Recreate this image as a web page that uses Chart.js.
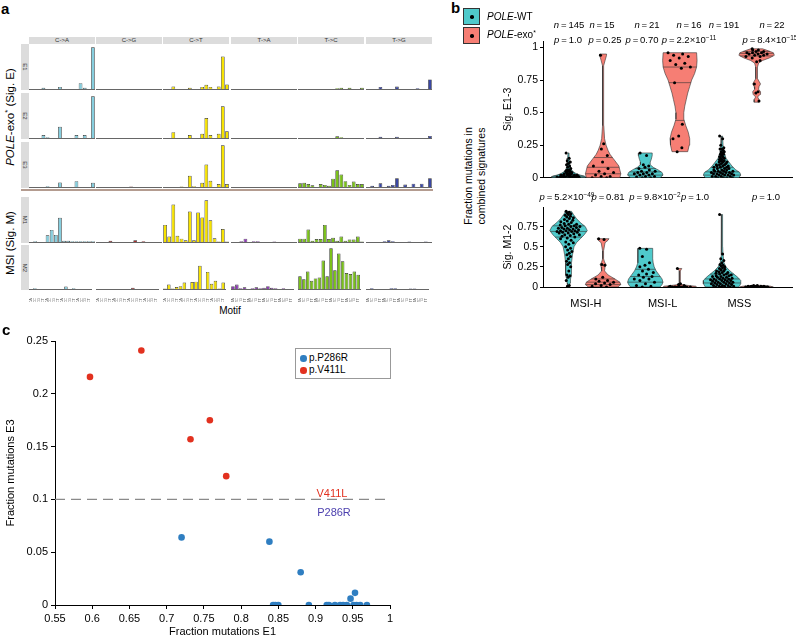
<!DOCTYPE html>
<html>
<head>
<meta charset="utf-8">
<script src="https://cdn.jsdelivr.net/npm/chart.js@4.4.1/dist/chart.umd.min.js"></script>
<style>
body { margin: 0; background: #fff; }
#page { position: relative; width: 796px; height: 639px; overflow: hidden; font-family: 'Liberation Sans', Arial, sans-serif; color: #000; }
canvas { position: absolute; }
.t { position: absolute; white-space: nowrap; line-height: 1; }
.c { transform: translate(-50%, -50%); }
.r { transform: translate(-50%, -50%) rotate(-90deg); }
.strip { position: absolute; background: #dcdcdc; color: #333; font-size: 6px; text-align: center; overflow: hidden; }
sup { font-size: 68%; vertical-align: 0.5em; line-height: 0; }
</style>
</head>
<body>
<div id="page"></div>
<script>
// panel a: mutational signatures (each row relative to its highest bar)
var groups = ['C->A', 'C->G', 'C->T', 'T->A', 'T->C', 'T->G'];
var groupColors = ['#86CEDE', '#B0282A', '#F6E200', '#8C3CB2', '#7AC11A', '#3A47A3'];
var flank5 = ['A','A','A','A','C','C','C','C','G','G','G','G','T','T','T','T'];
var flank3 = ['A','C','G','T','A','C','G','T','A','C','G','T','A','C','G','T'];
var rowNames = ['E1', 'E2', 'E3', 'M1', 'M2'];

var sigE1 = [
  0,0,0,0.03,0,0,0,0.05,0,0,0,0,0.14,0.03,0,1.0,
  0,0,0,0,0,0,0,0,0,0,0,0,0,0,0,0,
  0,0,0.06,0,0,0,0.03,0,0,0.05,0.1,0.05,0,0.06,0.78,0.11,
  0,0,0,0,0,0,0,0,0,0,0,0,0,0,0,0,
  0,0,0,0,0,0,0,0,0,0.02,0.03,0,0.03,0,0,0.03,
  0,0,0,0.05,0,0,0,0.06,0,0,0,0,0.02,0,0,0.23
];
var sigE2 = [
  0,0,0,0.07,0.02,0,0,0.27,0,0,0,0.07,0,0.07,0,1.0,
  0,0,0,0,0,0,0,0,0,0,0,0,0,0,0,0,
  0,0,0.14,0,0,0,0.07,0,0,0.1,0.48,0.07,0,0.1,0.76,0.16,
  0,0,0,0,0,0,0,0,0,0,0,0,0,0,0,0,
  0,0,0,0,0,0,0,0,0,0.04,0.02,0,0,0,0,0,
  0,0,0,0.03,0,0,0,0.03,0,0,0,0,0,0,0,0.05
];
var sigE3 = [
  0,0,0,0,0.02,0,0,0.11,0,0,0,0.14,0,0,0,0.1,
  0,0,0,0,0,0,0,0,0.01,0,0,0,0,0,0,0,
  0,0,0,0,0.01,0,0.27,0.02,0,0.1,0.54,0.15,0,0.07,1.0,0.07,
  0,0,0,0,0,0,0,0,0,0,0,0,0,0,0,0,
  0.09,0.1,0.07,0.04,0,0.07,0.05,0.03,0.2,0.4,0.3,0.14,0.05,0.13,0.07,0.07,
  0,0.03,0,0.09,0,0.03,0.05,0.21,0,0.06,0,0.08,0,0.08,0,0.21
];
var sigM1 = [
  0,0.02,0,0,0.16,0.29,0.17,0.58,0.03,0.03,0.02,0.02,0.02,0.02,0.02,0.02,
  0,0,0,0.03,0,0,0,0,0,0.04,0,0.02,0,0,0,0,
  0.41,0.13,0.9,0.15,0.08,0.04,0.73,0.04,0.71,0.59,1.0,0.52,0.09,0.01,0.31,0.01,
  0,0,0.02,0.08,0,0.02,0.02,0,0,0,0.01,0,0,0,0,0,
  0.08,0.08,0.3,0.03,0.07,0.07,0.41,0.07,0.1,0.03,0.13,0.03,0.06,0.06,0.13,0.01,
  0,0,0,0,0.02,0.04,0.02,0,0,0,0.01,0,0,0,0.01,0
];
var sigM2 = [
  0,0.02,0,0,0,0,0,0,0,0.06,0,0.02,0,0,0,0,
  0,0,0,0,0,0,0,0,0,0.03,0,0,0,0,0,0,
  0.01,0.11,0.01,0.05,0.07,0.16,0,0.17,0.18,0.57,0,0.42,0.13,0.2,0.01,0.16,
  0.07,0.11,0.02,0.04,0,0.02,0.04,0.02,0.03,0.07,0.03,0.02,0,0.02,0,0,
  0.31,0.24,0.43,0.2,0.26,0.28,0.7,0.31,1.0,0.46,0.87,0.68,0.39,0.37,0.43,0.35,
  0,0.02,0,0,0,0,0.02,0.02,0,0,0,0.01,0.01,0,0,0
];
var sigRows = [sigE1, sigE2, sigE3, sigM1, sigM2];

// panel b: violins, profile levels / relative density / quantile lines / points
var cats = ['MSI-H', 'MSI-L', 'MSS'];

var e13WtH_y = [0, 0.01, 0.02, 0.03, 0.05, 0.07, 0.1, 0.15, 0.19];
var e13WtH_w = [17, 17, 12, 8, 4, 2.5, 1.5, 1, 0.5];
var e13WtH_q = [0.006, 0.013, 0.025];
var e13WtH_p = [0.19,0.15,0.13,0.12,0.11,0.1,0.09,0.08,0.07,0.06,0.06,0.05,0.05,0.05,0.04,0.04,0.04,0.03,0.03,0.03,0.03,0.02,0.02,0.02,0.02,0.02,0.02,0.01,0.01,0.01,0.01,0.01,0.01,0.01,0.005,0.005,0.005,0.005,0,0,0,0,0,0,0,0];
var e13ExoH_y = [0, 0.03, 0.06, 0.09, 0.12, 0.15, 0.18, 0.21, 0.25, 0.3, 0.4, 0.6, 0.8, 0.86, 0.9, 0.94, 0.95];
var e13ExoH_w = [17, 18, 17, 16, 13, 10, 7, 5, 3, 1.5, 0.7, 0.5, 0.5, 0.6, 2, 3.5, 3.5];
var e13ExoH_q = [0.03, 0.08, 0.155];
var e13ExoH_p = [0.94,0.26,0.22,0.17,0.12,0.09,0.07,0.05,0.04,0.03,0.02,0.01,0.01,0,0];
var e13WtL_y = [0, 0.02, 0.04, 0.06, 0.08, 0.1, 0.12, 0.14, 0.17, 0.19];
var e13WtL_w = [15, 18, 17, 13, 8, 5, 5, 6, 7, 7];
var e13WtL_q = [0.02, 0.045, 0.07];
var e13WtL_p = [0.19,0.17,0.1,0.09,0.08,0.07,0.06,0.05,0.05,0.04,0.04,0.03,0.03,0.03,0.02,0.02,0.01,0.01,0.005,0,0];
var e13ExoL_y = [0.2, 0.25, 0.3, 0.35, 0.4, 0.45, 0.5, 0.55, 0.6, 0.65, 0.7, 0.75, 0.8, 0.85, 0.9, 0.96];
var e13ExoL_w = [8, 9.5, 10, 8.5, 6, 4, 4, 5, 6.5, 8, 10, 12, 15, 17, 17.5, 17];
var e13ExoL_q = [0.44, 0.73, 0.85];
var e13ExoL_p = [0.96,0.95,0.94,0.93,0.92,0.9,0.88,0.87,0.85,0.84,0.73,0.41,0.32,0.3,0.23,0.2];
var e13WtS_y = [0, 0.02, 0.04, 0.06, 0.09, 0.12, 0.15, 0.2, 0.25, 0.32];
var e13WtS_w = [17, 19, 18, 14, 10, 7, 4, 2, 1, 0.5];
var e13WtS_q = [0.02, 0.045, 0.08];
var e13WtS_p = [0.32,0.3,0.25,0.23,0.22,0.22,0.21,0.2,0.2,0.19,0.18,0.18,0.17,0.16,0.16,0.15,0.15,0.14,0.14,0.13,0.13,0.12,0.12,0.12,0.11,0.11,0.1,0.1,0.1,0.09,0.09,0.09,0.08,0.08,0.08,0.07,0.07,0.07,0.06,0.06,0.06,0.05,0.05,0.05,0.05,0.04,0.04,0.04,0.04,0.03,0.03,0.03,0.03,0.02,0.02,0.02,0.02,0.01,0.01,0.01,0.01,0,0,0,0];
var e13ExoS_y = [0.58, 0.6, 0.62, 0.64, 0.66, 0.68, 0.7, 0.72, 0.74, 0.76, 0.8, 0.85, 0.88, 0.9, 0.92, 0.94, 0.96, 0.98, 0.99];
var e13ExoS_w = [2.5, 2.5, 1, 3.5, 4, 2, 2.5, 4, 2.5, 1, 0.8, 1, 2, 6, 13, 18, 17, 10, 6];
var e13ExoS_q = [0.935, 0.955, 0.97];
var e13ExoS_p = [0.99,0.98,0.98,0.97,0.97,0.96,0.96,0.96,0.95,0.95,0.95,0.94,0.94,0.93,0.93,0.92,0.9,0.89,0.72,0.66,0.65,0.59];

var m12WtH_y = [0.01, 0.05, 0.1, 0.15, 0.2, 0.3, 0.4, 0.5, 0.55, 0.6, 0.65, 0.7, 0.75, 0.8, 0.85, 0.9, 0.94];
var m12WtH_w = [1, 1.5, 2, 3, 3, 3, 4, 5.5, 8, 12, 16, 19, 17, 12, 8, 5, 3];
var m12WtH_q = [0.62, 0.69, 0.76];
var m12WtH_p = [0.94,0.93,0.92,0.91,0.9,0.89,0.88,0.87,0.86,0.85,0.84,0.83,0.82,0.81,0.8,0.79,0.78,0.78,0.77,0.76,0.76,0.75,0.75,0.74,0.74,0.73,0.73,0.72,0.72,0.71,0.71,0.7,0.7,0.7,0.69,0.69,0.68,0.68,0.67,0.67,0.66,0.65,0.65,0.64,0.63,0.62,0.61,0.6,0.58,0.56,0.55,0.53,0.5,0.48,0.46,0.44,0.42,0.4,0.38,0.35,0.32,0.3,0.28,0.25,0.2,0.15,0.14,0.12,0.08,0.02,0.01];
var m12ExoH_y = [0, 0.03, 0.06, 0.1, 0.15, 0.2, 0.25, 0.28, 0.31, 0.35, 0.45, 0.55, 0.58, 0.6];
var m12ExoH_w = [15, 18, 17, 12, 5, 1.5, 2, 3, 1.5, 0.5, 0.5, 2, 5, 6];
var m12ExoH_q = [0.03, 0.06, 0.1];
var m12ExoH_p = [0.6,0.59,0.28,0.27,0.12,0.1,0.08,0.07,0.06,0.05,0.04,0.03,0.02,0.01,0];
var m12WtL_y = [0, 0.03, 0.06, 0.1, 0.15, 0.2, 0.25, 0.3, 0.35, 0.4, 0.45, 0.48];
var m12WtL_w = [15, 17, 18, 17, 14, 11, 9, 8, 7.5, 7.5, 7.5, 7.5];
var m12WtL_q = [0.06, 0.13, 0.22];
var m12WtL_p = [0.48,0.47,0.38,0.3,0.27,0.25,0.22,0.2,0.18,0.16,0.15,0.13,0.12,0.1,0.1,0.08,0.06,0.04,0.02,0.01,0];
var m12ExoL_y = [0, 0.01, 0.02, 0.03, 0.05, 0.1, 0.15, 0.2, 0.23];
var m12ExoL_w = [17, 16, 8, 2, 0.6, 0.5, 0.5, 0.6, 2];
var m12ExoL_q = [];
var m12ExoL_p = [0.23,0.04,0.03,0.02,0.01,0.01,0.01,0,0,0,0,0,0,0,0,0];
var m12WtS_y = [0, 0.04, 0.08, 0.12, 0.16, 0.2, 0.25, 0.3, 0.4, 0.5, 0.7, 0.9];
var m12WtS_w = [17, 19, 19, 16, 12, 8, 4, 2, 1, 0.6, 0.5, 0.5];
var m12WtS_q = [0.05, 0.1, 0.16];
var m12WtS_p = [0.9,0.41,0.35,0.33,0.3,0.28,0.27,0.26,0.25,0.24,0.23,0.22,0.21,0.2,0.2,0.19,0.18,0.18,0.17,0.16,0.16,0.15,0.15,0.14,0.14,0.13,0.13,0.12,0.12,0.11,0.11,0.1,0.1,0.1,0.09,0.09,0.08,0.08,0.08,0.07,0.07,0.06,0.06,0.06,0.05,0.05,0.04,0.04,0.04,0.03,0.03,0.02,0.02,0.02,0.01,0.01,0.01,0,0,0];
var m12ExoS_y = [0, 0.01, 0.02];
var m12ExoS_w = [17, 14, 4];
var m12ExoS_q = [];
var m12ExoS_p = [0.02,0.02,0.01,0.01,0.01,0.01,0.01,0.01,0,0,0,0,0,0,0,0,0,0,0,0,0,0];

// panel c: per-sample fractions
var p286E1 = [0.720,0.838,0.880,0.843,0.846,0.850,0.891,0.915,0.918,0.926,0.933,0.937,0.942,0.947,0.953,0.951,0.955,0.960,0.969];
var p286E3 = [0.064,0.060,0.031,0,0,0,0,0,0,0,0,0,0,0.006,0.0115,0,0,0,0];
var v411E1 = [0.597,0.666,0.732,0.758,0.780];
var v411E3 = [0.216,0.241,0.157,0.175,0.122];
var e3Cutoff = 0.1;

Chart.defaults.font.family = "'Liberation Sans', Arial, sans-serif";
Chart.defaults.color = '#000';

var page = document.getElementById('page');

function addText(html, x, y, size, cls, extra) {
  var d = document.createElement('div');
  d.className = 't ' + (cls || '');
  d.style.left = x + 'px';
  d.style.top = y + 'px';
  d.style.fontSize = size + 'px';
  if (extra) d.style.cssText += extra;
  d.innerHTML = html;
  page.appendChild(d);
  return d;
}

function addCanvas(left, top, w, h) {
  var cv = document.createElement('canvas');
  cv.width = w; cv.height = h;
  cv.style.left = left + 'px';
  cv.style.top = top + 'px';
  page.appendChild(cv);
  return cv;
}

// plain number labels: 0.25, 0.5, 1
function num(v) { return String(Math.round(v * 100) / 100); }

// ---------- panel a ----------
var facetLeft = [29, 96, 163, 231, 298, 366];
var facetW = 66;
var rowTop = [44, 93, 142, 197, 245];
var rowBase = [89, 138, 187, 242, 289];

function facetChart(g, r) {
  var withTicks = r === 4;
  var mid = g < 3 ? 'C' : 'T';
  var labels = flank5.map(function (f, i) { return f + mid + flank3[i]; });
  var values = sigRows[r].slice(g * 16, g * 16 + 16);
  var h = rowBase[r] - rowTop[r];
  var cv = addCanvas(facetLeft[g], rowTop[r], facetW, h + (withTicks ? 13 : 1));
  new Chart(cv, {
    type: 'bar',
    data: {
      labels: labels,
      datasets: [{
        data: values,
        backgroundColor: groupColors[g],
        borderColor: '#2a2a2a',
        borderWidth: 0.7,
        barPercentage: 1,
        categoryPercentage: 0.9
      }]
    },
    options: {
      responsive: false, animation: false, events: [],
      layout: { padding: { bottom: withTicks ? 0 : 1 } },
      plugins: { legend: { display: false }, tooltip: { enabled: false } },
      scales: {
        x: {
          grid: { display: false },
          border: { color: '#666', width: 1 },
          ticks: { display: withTicks, autoSkip: false, minRotation: 90, maxRotation: 90, font: { size: 4 }, color: '#666', padding: 1 },
          afterFit: function (s) { s.height = withTicks ? 13 : 0; }
        },
        y: { display: false, min: 0, max: 1.08 }
      }
    }
  });
}

for (var r = 0; r < 5; r++) {
  for (var g = 0; g < 6; g++) facetChart(g, r);
  var s = document.createElement('div');
  s.className = 'strip';
  s.style.cssText += 'left:21px;width:8px;top:' + rowTop[r] + 'px;height:' + (rowBase[r] - rowTop[r] + 1) + 'px;';
  s.innerHTML = '<div class="t c" style="left:4px;top:50%;font-size:6px;transform:translate(-50%,-50%) rotate(90deg)">' + rowNames[r] + '</div>';
  page.appendChild(s);
}
groups.forEach(function (name, g) {
  var s = document.createElement('div');
  s.className = 'strip';
  s.style.cssText += 'left:' + facetLeft[g] + 'px;width:' + facetW + 'px;top:37px;height:7px;line-height:7px;';
  s.textContent = name;
  page.appendChild(s);
});
var sep = document.createElement('div');
sep.style.cssText = 'position:absolute;left:21px;top:189px;width:412px;height:2px;background:#b49c90;';
page.appendChild(sep);

addText('a', 1, 1, 15, '', 'font-weight:bold;');
addText('<i>POLE</i>-exo<sup>*</sup> (Sig. E)', 11, 117, 11.5, 'r');
addText('MSI (Sig. M)', 11, 243, 11.5, 'r');
addText('Motif', 230, 311, 10, 'c');

// ---------- panel b ----------
var WT_COL = '#4FCACB', EXO_COL = '#F67E74';
var PX = 1 / 78;   // relative density -> category units
var DODGE = 0.225;

function wAt(ys, ws, v) {
  if (v <= ys[0]) return ws[0];
  for (var i = 1; i < ys.length; i++) {
    if (v <= ys[i]) {
      var t = (v - ys[i - 1]) / (ys[i] - ys[i - 1]);
      return ws[i - 1] + t * (ws[i] - ws[i - 1]);
    }
  }
  return ws[ws.length - 1];
}

function violinSets(cat, dodge, ys, ws, qs, pts, col) {
  var c = cat + dodge, outline = [], i;
  for (i = 0; i < ys.length; i++) outline.push({ x: c + ws[i] * PX, y: ys[i] });
  for (i = ys.length - 1; i >= 0; i--) outline.push({ x: c - ws[i] * PX, y: ys[i] });
  outline.push(outline[0]);
  var sets = [{
    type: 'line', data: outline, fill: 'shape', backgroundColor: col,
    borderColor: '#333', borderWidth: 0.6, pointRadius: 0, tension: 0, order: 3
  }];
  qs.forEach(function (q) {
    var w = wAt(ys, ws, q) * PX;
    sets.push({ type: 'line', data: [{ x: c - w, y: q }, { x: c + w, y: q }], borderColor: '#333',
      borderWidth: 0.6, pointRadius: 0, fill: false, order: 2 });
  });
  var dots = pts.map(function (v, k) {
    var j = ((k * 0.618034) % 1) * 2 - 1;
    var w = Math.min(Math.max(wAt(ys, ws, v) * 0.75, 2.5), 12) * PX;
    return { x: c + j * w, y: v };
  });
  sets.push({ type: 'scatter', data: dots, pointRadius: 1.5, pointBackgroundColor: '#000',
    pointBorderWidth: 0, order: 1 });
  return sets;
}

function violinChart(top, h, padTop, xh, yMax, yTitle, showX, sets) {
  var cv = addCanvas(498, top, 298, h);
  new Chart(cv, {
    type: 'scatter',
    data: { datasets: sets },
    options: {
      responsive: false, animation: false, events: [],
      layout: { padding: { top: padTop, left: 0, right: 0, bottom: 0 } },
      plugins: { legend: { display: false }, tooltip: { enabled: false } },
      scales: {
        x: {
          type: 'linear', min: 0.442, max: 3.686,
          grid: { display: false },
          border: { color: '#000', width: 1 },
          afterBuildTicks: function (s) { s.ticks = [{ value: 1 }, { value: 2 }, { value: 3 }]; },
          ticks: { display: showX, callback: function (v) { return cats[v - 1]; }, font: { size: 11 }, padding: 2 },
          afterFit: function (s) { s.height = xh; }
        },
        y: {
          min: 0, max: yMax,
          grid: { drawOnChartArea: false, tickLength: 3, color: '#000' },
          border: { color: '#000', width: 1 },
          ticks: { stepSize: 0.25, includeBounds: false, font: { size: 10.5 }, padding: 2, callback: num },
          title: { display: true, text: yTitle, font: { size: 10.5 }, padding: { top: 4, bottom: 2 } },
          afterFit: function (s) { s.width = 45; }
        }
      }
    }
  });
}

violinChart(30, 156, 11, 5, 1.05, 'Sig. E1-3', false, [].concat(
  violinSets(1, -DODGE, e13WtH_y, e13WtH_w, e13WtH_q, e13WtH_p, WT_COL),
  violinSets(1, DODGE, e13ExoH_y, e13ExoH_w, e13ExoH_q, e13ExoH_p, EXO_COL),
  violinSets(2, -DODGE, e13WtL_y, e13WtL_w, e13WtL_q, e13WtL_p, WT_COL),
  violinSets(2, DODGE, e13ExoL_y, e13ExoL_w, e13ExoL_q, e13ExoL_p, EXO_COL),
  violinSets(3, -DODGE, e13WtS_y, e13WtS_w, e13WtS_q, e13WtS_p, WT_COL),
  violinSets(3, DODGE, e13ExoS_y, e13ExoS_w, e13ExoS_q, e13ExoS_p, EXO_COL)
));
violinChart(199, 112, 4, 24, 0.99, 'Sig. M1-2', true, [].concat(
  violinSets(1, -DODGE, m12WtH_y, m12WtH_w, m12WtH_q, m12WtH_p, WT_COL),
  violinSets(1, DODGE, m12ExoH_y, m12ExoH_w, m12ExoH_q, m12ExoH_p, EXO_COL),
  violinSets(2, -DODGE, m12WtL_y, m12WtL_w, m12WtL_q, m12WtL_p, WT_COL),
  violinSets(2, DODGE, m12ExoL_y, m12ExoL_w, m12ExoL_q, m12ExoL_p, EXO_COL),
  violinSets(3, -DODGE, m12WtS_y, m12WtS_w, m12WtS_q, m12WtS_p, WT_COL),
  violinSets(3, DODGE, m12ExoS_y, m12ExoS_w, m12ExoS_q, m12ExoS_p, EXO_COL)
));

addText('b', 451, 0, 15, '', 'font-weight:bold;');
[[8, WT_COL], [27, EXO_COL]].forEach(function (b) {
  var d = document.createElement('div');
  d.style.cssText = 'position:absolute;left:463px;top:' + b[0] + 'px;width:15px;height:15px;border:1px solid #333;background:' + b[1] + ';';
  d.innerHTML = '<div style="position:absolute;left:6px;top:6px;width:3.5px;height:3.5px;border-radius:50%;background:#000"></div>';
  page.appendChild(d);
});
addText('<i>POLE</i>-WT', 487, 12, 10);
addText('<i>POLE</i>-exo<sup>*</sup>', 487, 30, 10);

var nLab = [['145', 569], ['15', 602], ['21', 647], ['16', 689], ['191', 724], ['22', 772]];
nLab.forEach(function (n) { addText('<i>n</i>&thinsp;=&thinsp;' + n[0], n[1], 25, 9.5, 'c'); });
var pTop = [['1.0', 568], ['0.25', 605], ['0.70', 642], ['2.2×10<sup>−11</sup>', 689], ['8.4×10<sup>−15</sup>', 770]];
pTop.forEach(function (p) { addText('<i>p</i>&thinsp;=&thinsp;' + p[0], p[1], 40, 9.5, 'c'); });
var pBot = [['5.2×10<sup>−49</sup>', 567], ['0.81', 608], ['9.8×10<sup>−2</sup>', 655], ['1.0', 695], ['1.0', 766]];
pBot.forEach(function (p) { addText('<i>p</i>&thinsp;=&thinsp;' + p[0], p[1], 197, 9.5, 'c'); });
addText('Fraction mutations in<br>combined signatures', 475, 176, 10.5, 'r', 'line-height:1.25;text-align:center;');

// ---------- panel c ----------
var cvC = addCanvas(0, 330, 400, 309);
new Chart(cvC, {
  type: 'scatter',
  data: {
    datasets: [
      { label: 'p.P286R', data: p286E1.map(function (x, i) { return { x: x, y: p286E3[i] }; }),
        pointRadius: 3.3, pointBackgroundColor: '#2F7EC1', pointBorderWidth: 0 },
      { label: 'p.V411L', data: v411E1.map(function (x, i) { return { x: x, y: v411E3[i] }; }),
        pointRadius: 3.3, pointBackgroundColor: '#E2311F', pointBorderWidth: 0 },
      { type: 'line', data: [{ x: 0.55, y: e3Cutoff }, { x: 1, y: e3Cutoff }], borderColor: '#8a8a8a',
        borderDash: [10, 6], borderWidth: 1.3, pointRadius: 0, fill: false, order: 5 }
    ]
  },
  options: {
    responsive: false, animation: false, events: [],
    layout: { padding: { top: 11, right: 10, left: 0, bottom: 0 } },
    plugins: { legend: { display: false }, tooltip: { enabled: false } },
    scales: {
      x: {
        min: 0.55, max: 1,
        grid: { drawOnChartArea: false, tickLength: 4, color: '#000' },
        border: { color: '#000', width: 1 },
        ticks: { stepSize: 0.05, font: { size: 11 }, padding: 3, callback: num },
        title: { display: true, text: 'Fraction mutations E1', font: { size: 11 }, padding: { top: 2, bottom: 0 } },
        afterFit: function (s) { s.height = 34; }
      },
      y: {
        min: 0, max: 0.25,
        grid: { drawOnChartArea: false, tickLength: 4, color: '#000' },
        border: { color: '#000', width: 1 },
        ticks: { stepSize: 0.05, font: { size: 11 }, padding: 3, callback: num },
        title: { display: true, text: 'Fraction mutations E3', font: { size: 11 }, padding: { top: 4, bottom: 2 } },
        afterFit: function (s) { s.width = 55; }
      }
    }
  }
});

addText('c', 2, 322, 15, '', 'font-weight:bold;');
addText('V411L', 332, 493, 11, 'c', 'color:#E2311F;');
addText('P286R', 334, 512, 11, 'c', 'color:#4B3FAE;');
var leg = document.createElement('div');
leg.style.cssText = 'position:absolute;left:295px;top:348px;width:94px;height:29px;border:1px solid #999;background:#fff;';
leg.innerHTML =
  '<div style="position:absolute;left:4px;top:6px;width:6.5px;height:6.5px;border-radius:50%;background:#2F7EC1"></div>' +
  '<div class="t" style="left:13px;top:4px;font-size:10px">p.P286R</div>' +
  '<div style="position:absolute;left:4px;top:18px;width:6.5px;height:6.5px;border-radius:50%;background:#E2311F"></div>' +
  '<div class="t" style="left:13px;top:16px;font-size:10px">p.V411L</div>';
page.appendChild(leg);
</script>
</body>
</html>
